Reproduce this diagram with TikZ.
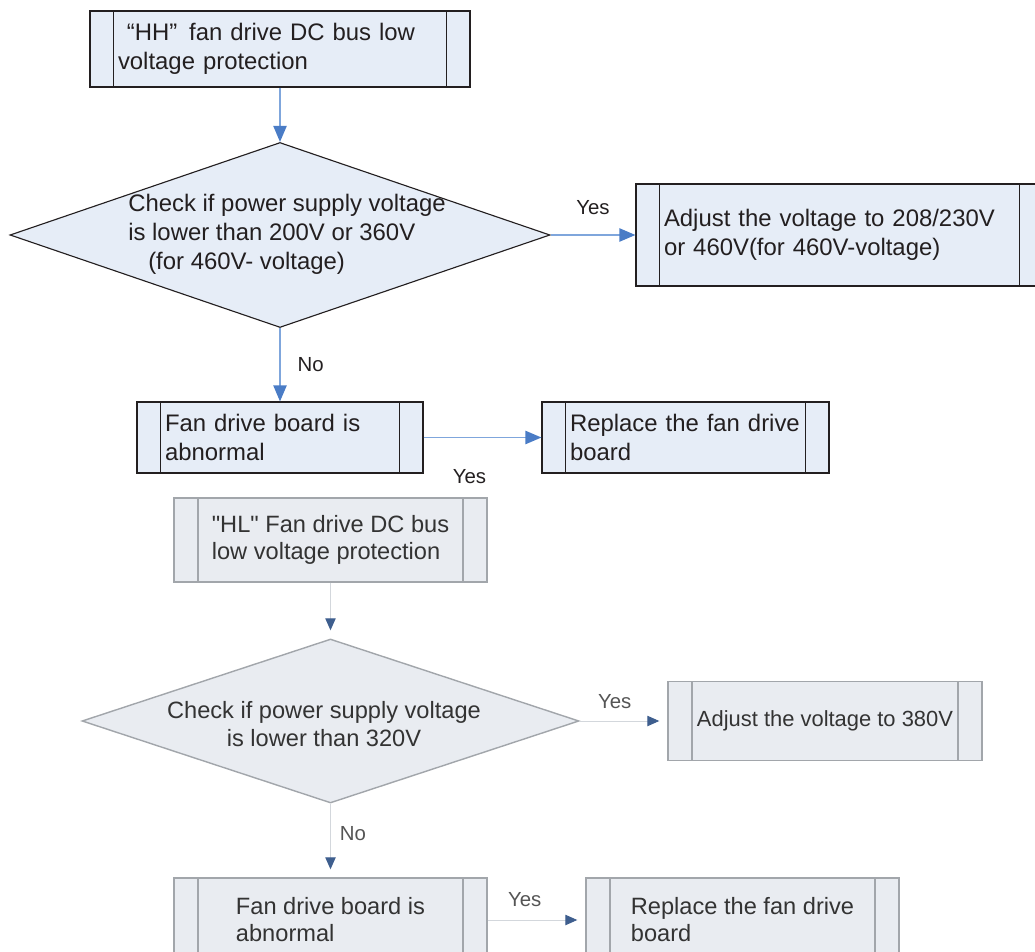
\documentclass[tikz,border=0pt]{standalone}
\usepackage{fontspec}
\setmainfont{Liberation Sans}
\newfontfamily\plainquote{Liberation Sans}
\usepackage{xcolor}
\usetikzlibrary{arrows.meta, shapes.geometric}
\definecolor{BoxFill}{HTML}{E6EDF7}
\definecolor{BoxLine}{HTML}{231F20}
\definecolor{Ink}{HTML}{231F20}
\definecolor{FlowLine}{HTML}{7FA6DC}
\definecolor{FlowHead}{HTML}{4A7CC6}
\definecolor{GreyFill}{HTML}{E9ECF1}
\definecolor{GreyLine}{HTML}{A2A6AB}
\definecolor{GreyInk}{HTML}{333333}
\definecolor{GreyLabel}{HTML}{555555}
\definecolor{GreyFlow}{HTML}{D3D7DC}
\definecolor{GreyHead}{HTML}{3E5E8E}
\newcommand{\dq}{{\plainquote"}}

\begin{document}
\begin{tikzpicture}[
        x=1cm,
        y=1cm,
        font=\fontsize{17}{20.5}\selectfont,
        flow/.style={-{Triangle[length=0.4cm,width=0.33cm,color=FlowHead]}, line width=1.1pt, draw=FlowLine},
        flowgrey/.style={-{Triangle[length=0.3cm,width=0.26cm,color=GreyHead]}, line width=0.7pt, draw=GreyFlow, shorten >=0.2cm},
        answer/.style={font=\fontsize{14.5}{17}\selectfont, text=Ink, inner sep=0pt},
        answergrey/.style={answer, text=GreyLabel},
        proc/.style={draw=BoxLine, fill=BoxFill, line width=0.8pt, text=Ink, align=left, inner xsep=0.7cm, inner ysep=0pt,
          path picture={\draw[BoxLine, line width=0.8pt]
            ([xshift=0.58cm]path picture bounding box.north west) -- ([xshift=0.58cm]path picture bounding box.south west)
            ([xshift=-0.58cm]path picture bounding box.north east) -- ([xshift=-0.58cm]path picture bounding box.south east);}},
        procgrey/.style={draw=GreyLine, fill=GreyFill, line width=1pt, text=GreyInk, align=left, inner sep=0pt,
          font=\fontsize{16.8}{19.2}\selectfont,
          path picture={\draw[GreyLine, line width=1.3pt]
            ([xshift=0.6cm]path picture bounding box.north west) -- ([xshift=0.6cm]path picture bounding box.south west)
            ([xshift=-0.6cm]path picture bounding box.north east) -- ([xshift=-0.6cm]path picture bounding box.south east);}},
        check/.style={diamond, draw=BoxLine, fill=BoxFill, line width=0.8pt, inner sep=0pt},
        checkgrey/.style={diamond, draw=GreyLine, fill=GreyFill, line width=1pt, inner sep=0pt},
        checktext/.style={align=left, inner sep=0pt, text=Ink},
        checkgreytext/.style={align=center, inner sep=0pt, text=GreyInk, font=\fontsize{16.8}{19.6}\selectfont}
      ]
        \useasboundingbox (0,0) rectangle (25.875,23.775);

        \node[proc, text width=8.1cm, minimum height=1.9cm] (hh) at (7.0,22.55) {\hspace*{0.22cm}“HH”\enspace fan drive DC bus low\\voltage protection};
        \node[check, minimum width=13.5cm, minimum height=4.625cm] (check1) at (7.0,17.9) {};
        \node[checktext, anchor=west] (check1txt) at (3.2,17.92) {Check if power supply voltage\\is lower than 200V or 360V\\\hspace*{0.5cm}(for 460V- voltage)};
        \node[proc, text width=8.775cm, minimum height=2.55cm] (adjust1) at (20.9875,17.9) {Adjust the voltage to 208/230V\\or 460V(for 460V-voltage)};
        \node[proc, text width=5.75cm, minimum height=1.775cm] (board1) at (7.0,12.8375) {Fan drive board is\\abnormal};
        \node[proc, text width=5.775cm, minimum height=1.775cm] (replace1) at (17.1375,12.8375) {Replace the fan drive\\board};

        \node[procgrey, minimum width=7.825cm, minimum height=2.1cm] (hl) at (8.2625,10.275) {\dq HL\dq\ Fan drive DC bus\\low voltage protection};
        \node[checkgrey, minimum width=12.425cm, minimum height=4.1cm] (check2) at (8.2625,5.75) {};
        \node[checkgreytext] (check2txt) at (8.1,5.675) {Check if power supply voltage\\is lower than 320V};
        \node[procgrey, minimum width=7.85cm, minimum height=1.975cm, font=\fontsize{15.6}{18}\selectfont] (adjust2) at (20.625,5.75) {Adjust the voltage to 380V};
        \node[procgrey, minimum width=7.825cm, minimum height=2.1cm] (board2) at (8.2625,0.775) {Fan drive board is\\abnormal};
        \node[procgrey, minimum width=7.825cm, minimum height=2.1cm] (replace2) at (18.5625,0.775) {Replace the fan drive\\board};

        \draw[flow] (hh) -- (check1);
        \draw[flow] (check1) -- node[answer, above=0.49cm] (yes1) {Yes} (adjust1);
        \draw[flow] (check1) -- node[answer, right=0.42cm] (no1) {No} (board1);
        \draw[flow] (board1) -- node[answer, pos=0.39, below=0.78cm] (yes2) {Yes} (replace1);

        \draw[flowgrey] (hl) -- (check2);
        \draw[flowgrey] (check2) -- node[answergrey, pos=0.4, above=0.29cm] (yes3) {Yes} (adjust2);
        \draw[flowgrey] (check2) -- node[answergrey, pos=0.4, right=0.22cm] (no2) {No} (board2);
        \draw[flowgrey] (board2) -- node[answergrey, pos=0.38, above=0.32cm] (yes4) {Yes} (replace2);
      \end{tikzpicture}
\end{document}
